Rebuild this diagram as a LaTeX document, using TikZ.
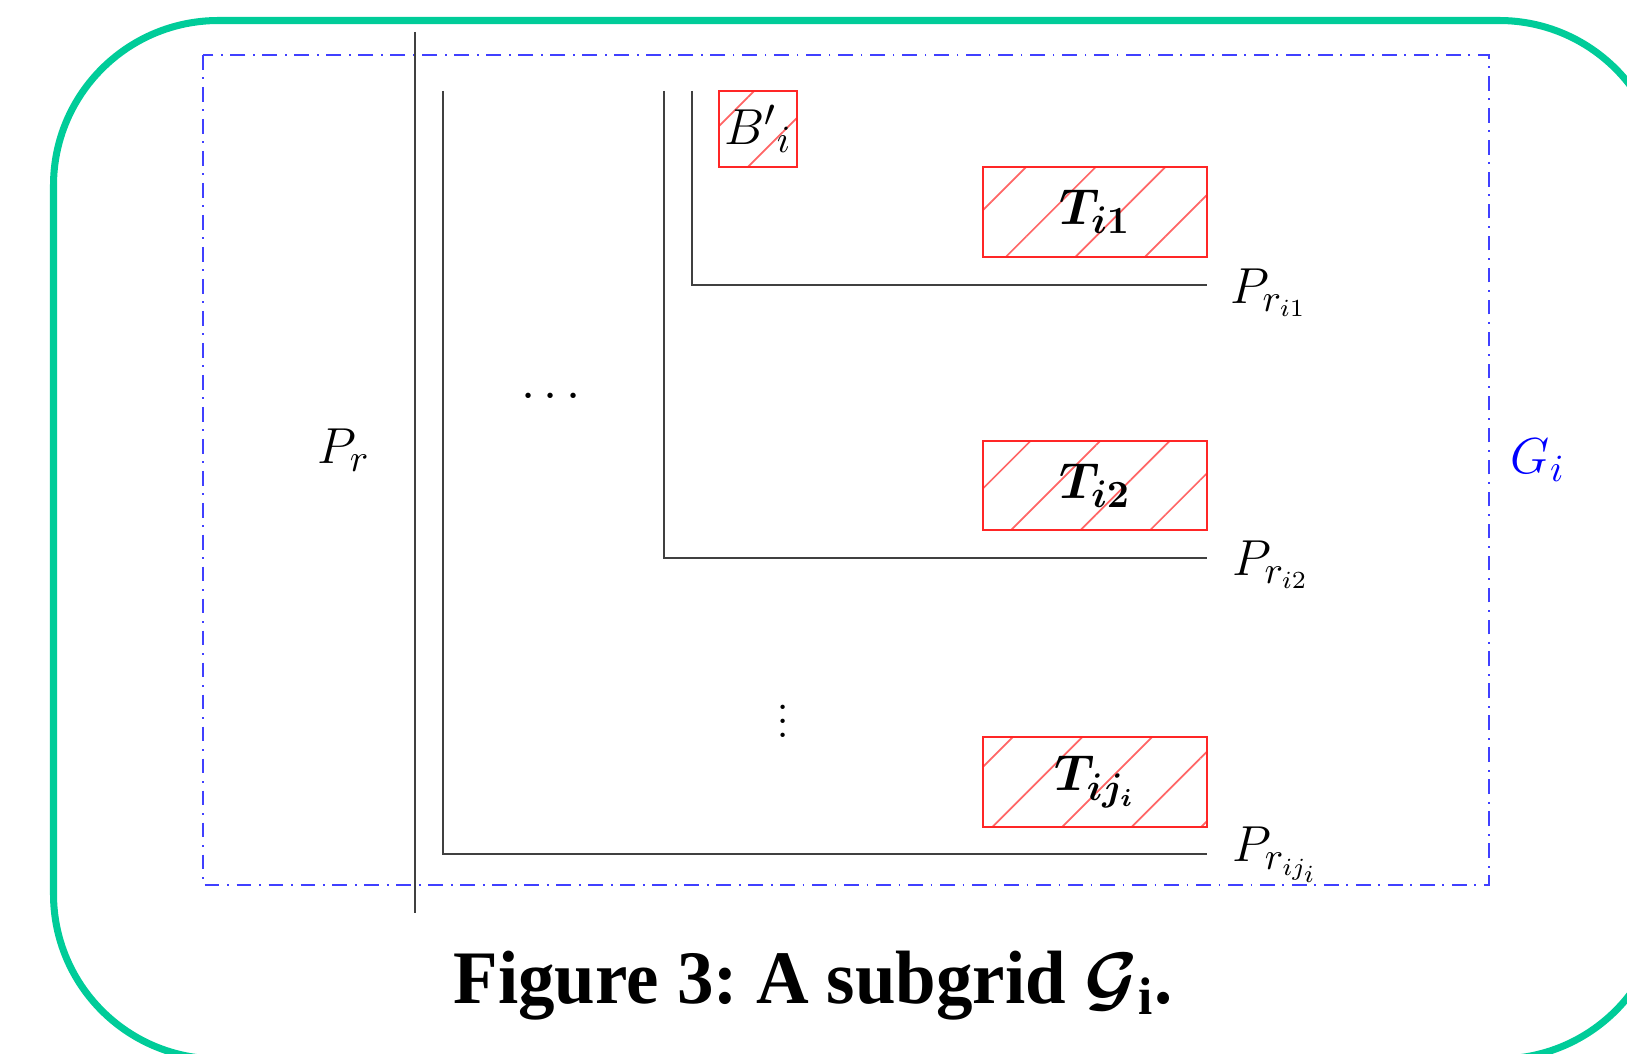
\documentclass[tikz,border=0pt]{standalone}
\usepackage{fontspec}
\usepackage{bm}
\newfontfamily\capfont[FakeStretch=0.965]{Liberation Serif}
\usetikzlibrary{patterns.meta}
\definecolor{framegreen}{RGB}{0,204,153}
\begin{document}
\begin{tikzpicture}[every node/.style={inner sep=0pt, font=\fontsize{15}{18}\selectfont}, gridline/.style={black!75, line width=0.6pt}, subgrid/.style={blue!75, line width=0.6pt, dash pattern=on 4.2pt off 2.2pt on 0.5pt off 2.2pt}, hatched/.style={draw=red!85, line width=0.6pt, pattern={Lines[angle=45, distance=14pt, line width=0.5pt]}, pattern color=red!60}, frame/.style={framegreen, line width=2pt, rounded corners=1.65cm}, captext/.style={font=\capfont\bfseries\fontsize{21.5}{26}\selectfont}]
		\useasboundingbox (0,0) rectangle (16.27,-10.54);
		\clip (0,0) rectangle (16.27,-10.54);
		\draw[frame] (0.535,-0.205) rectangle (16.64,-10.59);
		\draw[subgrid] (2.03,-0.55) rectangle (14.89,-8.85);
		\node[blue] (gi) at (15.38,-4.60) {$G_i$};
		% the paths
		\draw[gridline] (4.15,-0.32) -- (4.15,-9.13);
		\node (pr) at (3.44,-4.50) {$P_r$};
		\draw[gridline] (4.43,-0.91) |- (12.07,-8.54);
		\draw[gridline] (6.64,-0.91) |- (12.07,-5.58);
		\draw[gridline] (6.92,-0.91) |- (12.07,-2.85);
		\node (pri1) at (12.69,-2.93) {$P_{r_{i1}}$};
		\node (pri2) at (12.71,-5.65) {$P_{r_{i2}}$};
		\node (prij) at (12.76,-8.55) {$P_{r_{ij_i}}$};
		% the subtrees
		\node[hatched, minimum width=0.78cm, minimum height=0.76cm] (bi) at (7.58,-1.29) {${B'}_i$};
		\node[hatched, minimum width=2.24cm, minimum height=0.90cm] (t1) at (10.95,-2.12) {$\bm{T_{i1}}$};
		\node[hatched, minimum width=2.24cm, minimum height=0.89cm] (t2) at (10.95,-4.855) {$\bm{T_{i2}}$};
		\node[hatched, minimum width=2.24cm, minimum height=0.90cm] (tj) at (10.95,-7.82) {$\bm{T_{ij_i}}$};
		\node (hdots) at (5.51,-3.97) {$\cdots$};
		\node (vdots) at (7.83,-7.11) {$\vdots$};
		\node[captext, anchor=base] (caption) at (8.13,-10.03) {\frenchspacing Figure 3: A subgrid $\bm{\mathcal{G}}$\textsubscript{i}.};
	\end{tikzpicture}
\end{document}
